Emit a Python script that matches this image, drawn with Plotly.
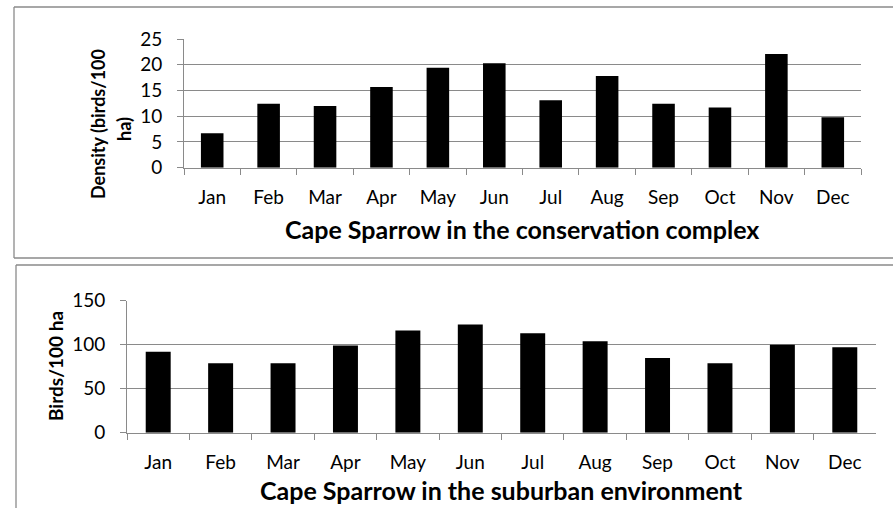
import plotly.graph_objects as go

W, H = 893, 508

months = ["Jan", "Feb", "Mar", "Apr", "May", "Jun", "Jul", "Aug", "Sep", "Oct", "Nov", "Dec"]

# density, conservation complex (birds/100 ha)
conservation = [6.7, 12.4, 12.0, 15.7, 19.4, 20.3, 13.1, 17.8, 12.4, 11.7, 22.1, 9.8]
# density, suburban environment (birds/100 ha)
suburban = [92, 79, 79, 99, 116, 123, 113, 104, 85, 79, 100, 97]

top_title = "Cape Sparrow in the conservation complex"
bottom_title = "Cape Sparrow in the suburban environment"
top_ytitle = ["Density (birds/100", "ha)"]
bottom_ytitle = "Birds/100 ha"

FONT = "Lato"
GREY = "#8a8a8a"


def px_x(v):
    return v / W


def px_y(v):
    return 1 - v / H


fig = go.Figure()
fig.add_trace(go.Bar(x=months, y=conservation, marker_color="black",
                     marker_line_width=0, xaxis="x", yaxis="y"))
fig.add_trace(go.Bar(x=months, y=suburban, marker_color="black",
                     marker_line_width=0, xaxis="x2", yaxis="y2"))

common_x = dict(showline=True, linecolor=GREY, linewidth=1, ticks="outside",
                tickson="boundaries", ticklen=6, tickcolor=GREY, showgrid=False,
                tickfont=dict(family=FONT, size=19, color="black"),
                ticklabelstandoff=12, fixedrange=True)
common_y = dict(showline=True, linecolor=GREY, linewidth=1, ticks="outside",
                ticklen=6, tickcolor=GREY, showgrid=True, gridcolor=GREY,
                gridwidth=1, zeroline=False,
                tickfont=dict(family=FONT, size=19, color="black"),
                ticklabelstandoff=11, fixedrange=True)

fig.update_layout(
    width=W, height=H,
    margin=dict(l=0, r=0, t=0, b=0, autoexpand=False),
    paper_bgcolor="white", plot_bgcolor="white",
    showlegend=False, bargap=0.6,
    xaxis=dict(domain=[px_x(184), px_x(861)], anchor="y", **common_x),
    yaxis=dict(domain=[px_y(167.7), px_y(39)], anchor="x", range=[0, 25],
               dtick=5, **common_y),
    xaxis2=dict(domain=[px_x(127), px_x(876)], anchor="y2", **common_x),
    yaxis2=dict(domain=[px_y(432.7), px_y(300.7)], anchor="x2", range=[0, 150],
                dtick=50, **common_y),
)

# panel frames
frame = dict(type="line", xref="paper", yref="paper",
             line=dict(color=GREY, width=1.3))
fig.add_shape(x0=px_x(14), x1=1, y0=px_y(7), y1=px_y(7), **frame)
fig.add_shape(x0=px_x(14), x1=px_x(14), y0=px_y(7), y1=px_y(258), **frame)
fig.add_shape(x0=px_x(14), x1=1, y0=px_y(258), y1=px_y(258), **frame)
fig.add_shape(x0=px_x(16), x1=1, y0=px_y(265), y1=px_y(265), **frame)
fig.add_shape(x0=px_x(16), x1=px_x(16), y0=px_y(265), y1=0, **frame)

ann = dict(xref="paper", yref="paper", showarrow=False,
           xanchor="center", yanchor="middle")
bold = dict(family=FONT, size=25, color="black")
fig.add_annotation(x=px_x(522), y=px_y(229), text="<b>%s</b>" % top_title,
                   font=bold, **ann)
fig.add_annotation(x=px_x(501), y=px_y(490), text="<b>%s</b>" % bottom_title,
                   font=bold, **ann)

# y titles (the top one wraps onto two lines, as in the original)
lab = dict(family=FONT, size=18, color="black")
fig.add_annotation(x=px_x(98), y=px_y(124), text="<b>%s</b>" % top_ytitle[0],
                   textangle=-90, font=lab, **ann)
fig.add_annotation(x=px_x(124), y=px_y(129), text="<b>%s</b>" % top_ytitle[1],
                   textangle=-90, font=lab, **ann)
fig.add_annotation(x=px_x(55), y=px_y(366), text="<b>%s</b>" % bottom_ytitle,
                   textangle=-90, font=dict(family=FONT, size=19, color="black"),
                   **ann)

# body margin off so the figure sits at the corner of the window
fig.write_html("out.html", post_script="document.body.style.margin = '0';",
               config={"displayModeBar": False})
